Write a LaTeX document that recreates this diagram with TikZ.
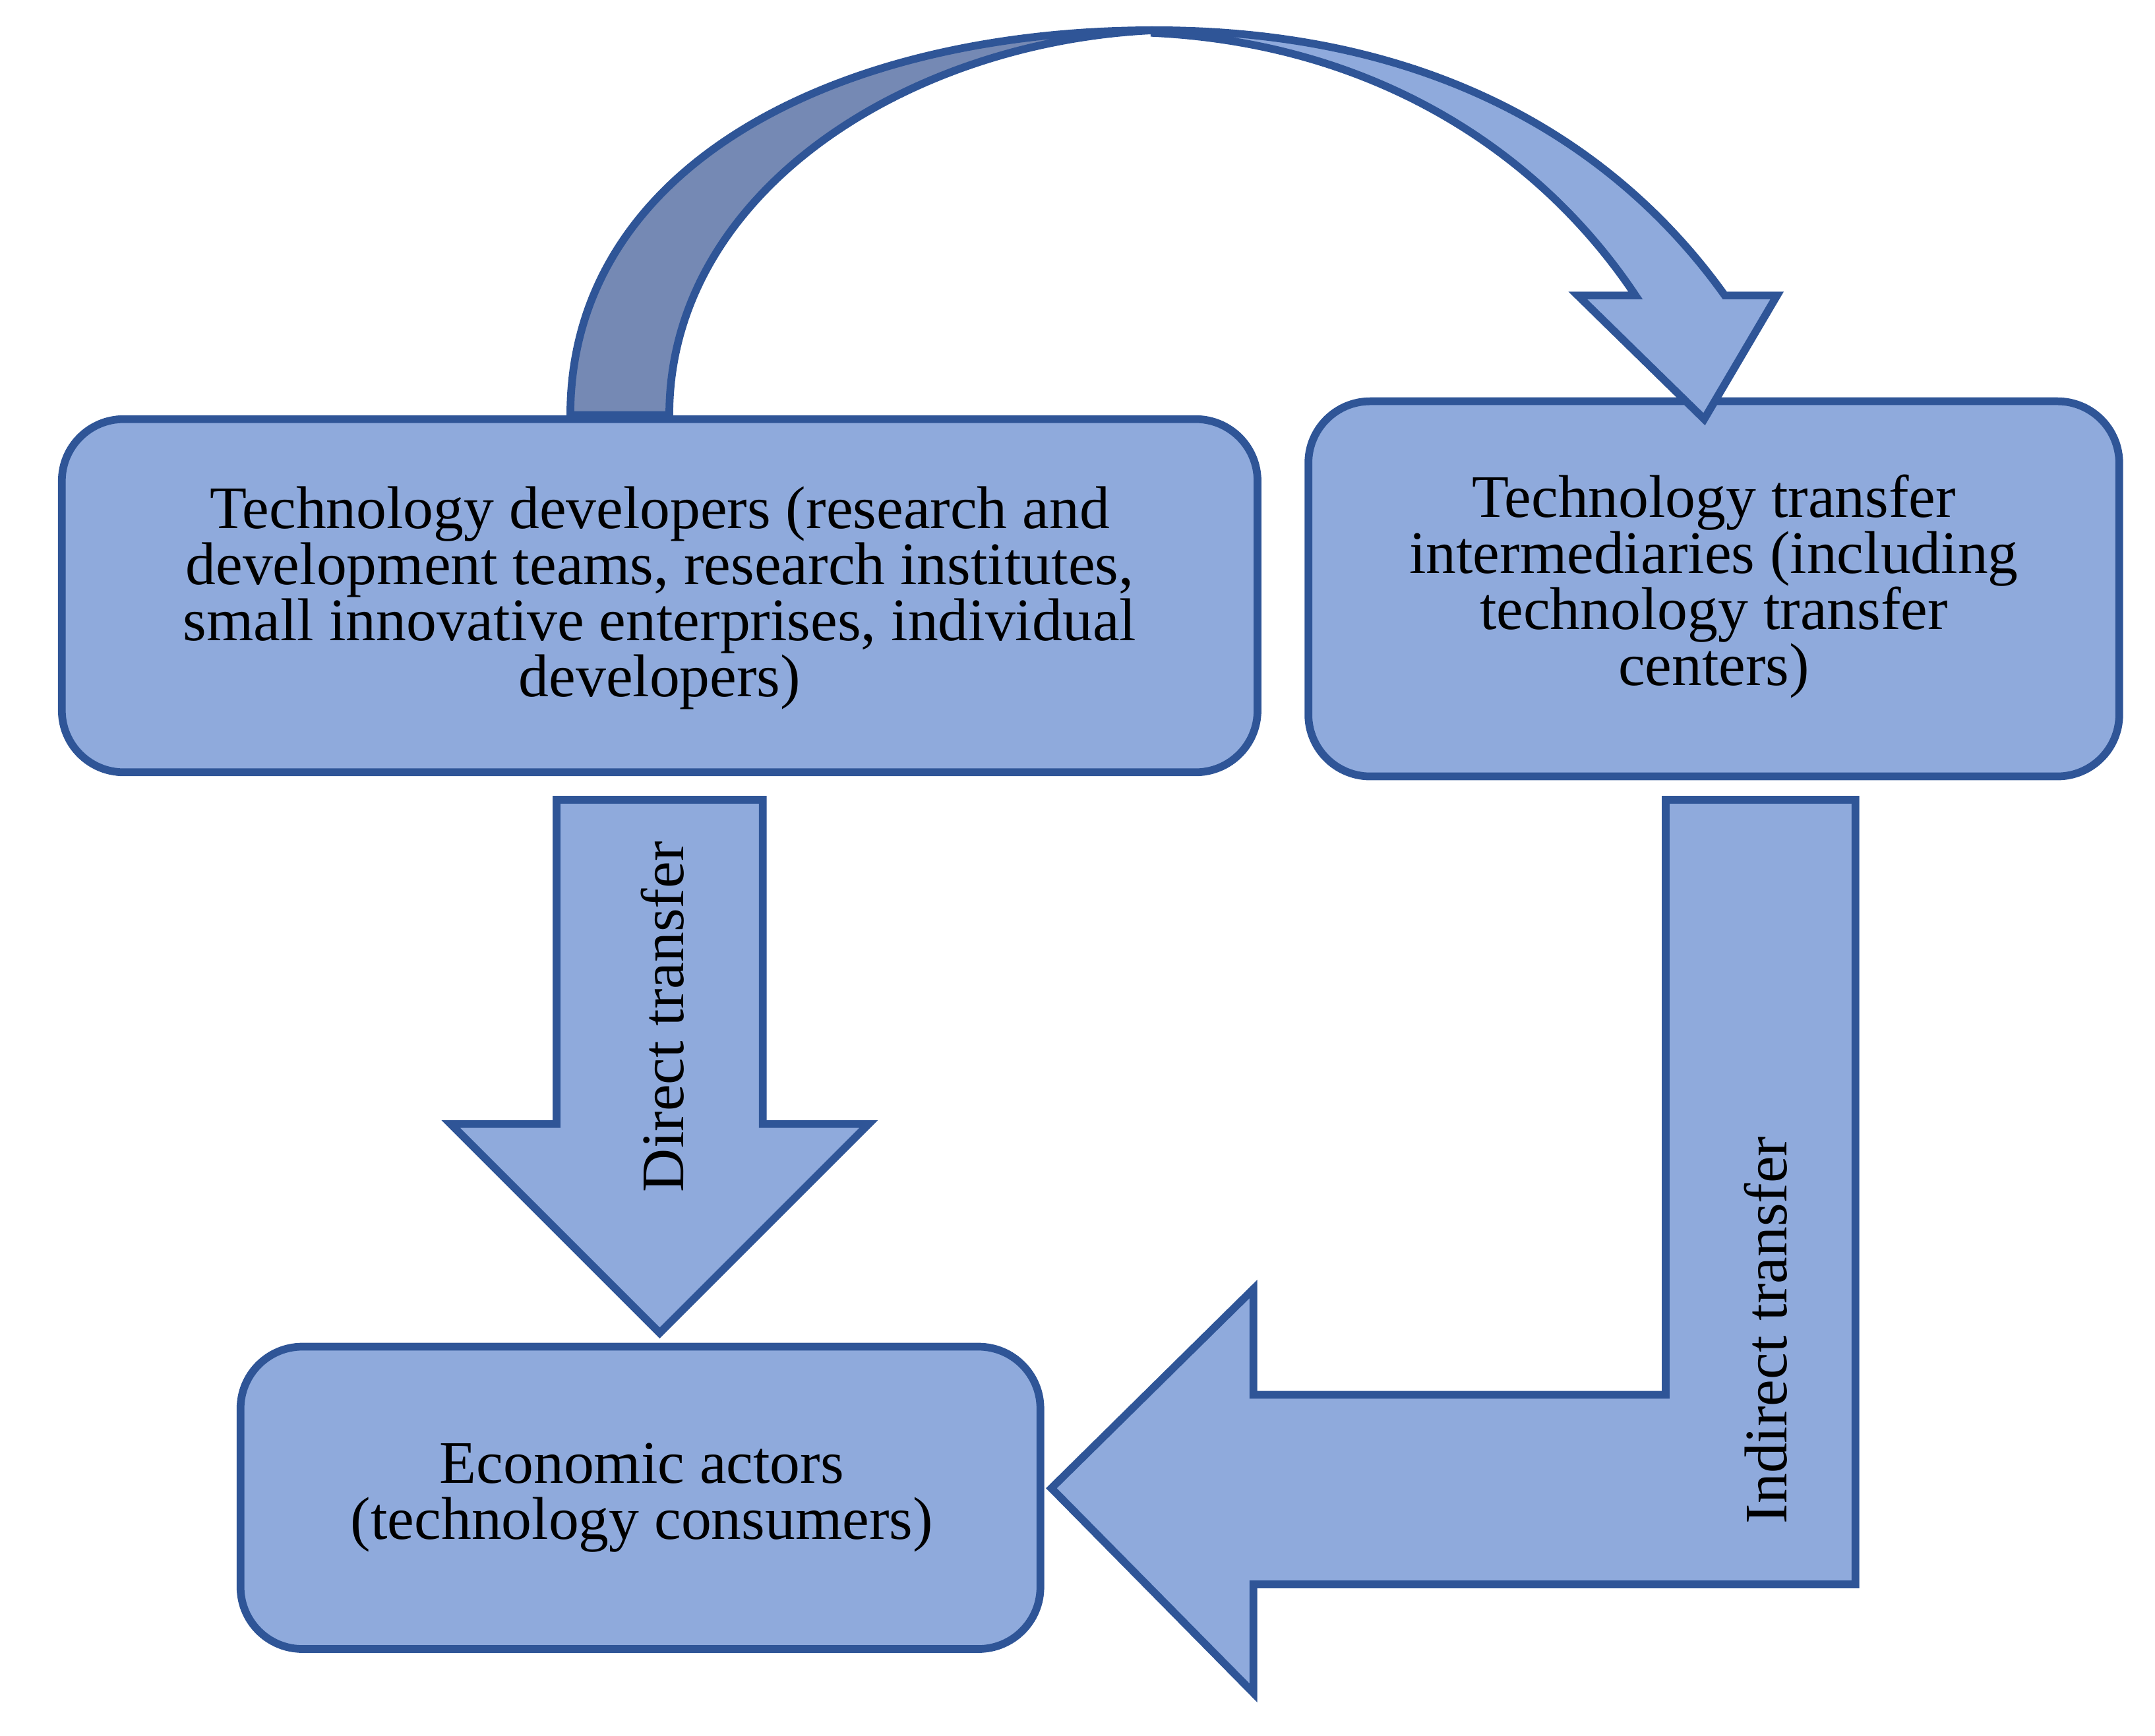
\documentclass[tikz,border=0pt]{standalone}
\usepackage{fontspec}
\setmainfont{Liberation Serif}
\begin{document}
\begin{tikzpicture}[x=0.01cm,y=-0.01cm,
  lw/.style={draw=bdr,line width=1.6pt,line join=miter},
  box/.style={lw,fill=fillc,rounded corners=0.45cm,align=center,font=\fontsize{12.5}{11.6}\selectfont},
  lab/.style={font=\fontsize{12.5}{14}\selectfont,rotate=90}]
\definecolor{fillc}{HTML}{8FAADC}
\definecolor{bdr}{HTML}{2F5597}
\definecolor{darkc}{HTML}{7589B4}
\useasboundingbox (0,0) rectangle (1568,1263);
% boxes
\draw[box] (45,305) rectangle (915,562);
\node[align=center,font=\fontsize{12.5}{11.6}\selectfont] (dev) at (480,435) {Technology developers (research and\\development teams, research institutes,\\small innovative enterprises, individual\\developers)};
\draw[box] (952,292) rectangle (1542,565);
\node[align=center,font=\fontsize{12.5}{11.6}\selectfont] (mid) at (1247,427) {Technology transfer\\intermediaries (including\\technology transfer\\centers)};
\draw[box] (175,980) rectangle (757,1200);
\node[align=center,font=\fontsize{12.5}{11.6}\selectfont] (eco) at (467,1090) {Economic actors\\(technology consumers)};
% direct arrow
\draw[lw,fill=fillc] (405,582) -- (555,582) -- (555,818) -- (632,818) -- (480,970) -- (328,818) -- (405,818) -- cycle;
\node[lab] (dl) at (482,740) {Direct transfer};
% indirect arrow
\draw[lw,fill=fillc] (1212,582) -- (1350,582) -- (1350,1153) -- (912,1153) -- (912,1232) -- (765,1083) -- (912,938) -- (912,1015) -- (1212,1015) -- cycle;
\node[lab] (il) at (1285,968) {Indirect transfer};
% curved arrow
\draw[lw,fill=fillc] (840,22) .. controls (1050,22) and (1180,110) .. (1255,215) -- (1293,215) -- (1240,305) -- (1148,215) -- (1190,215) .. controls (1120,110) and (1000,32) .. (840,24) -- cycle;
\draw[lw,fill=darkc] (415,302) .. controls (415,120) and (610,22) .. (840,22) .. controls (660,30) and (487,140) .. (487,302) -- cycle;
\end{tikzpicture}
\end{document}
